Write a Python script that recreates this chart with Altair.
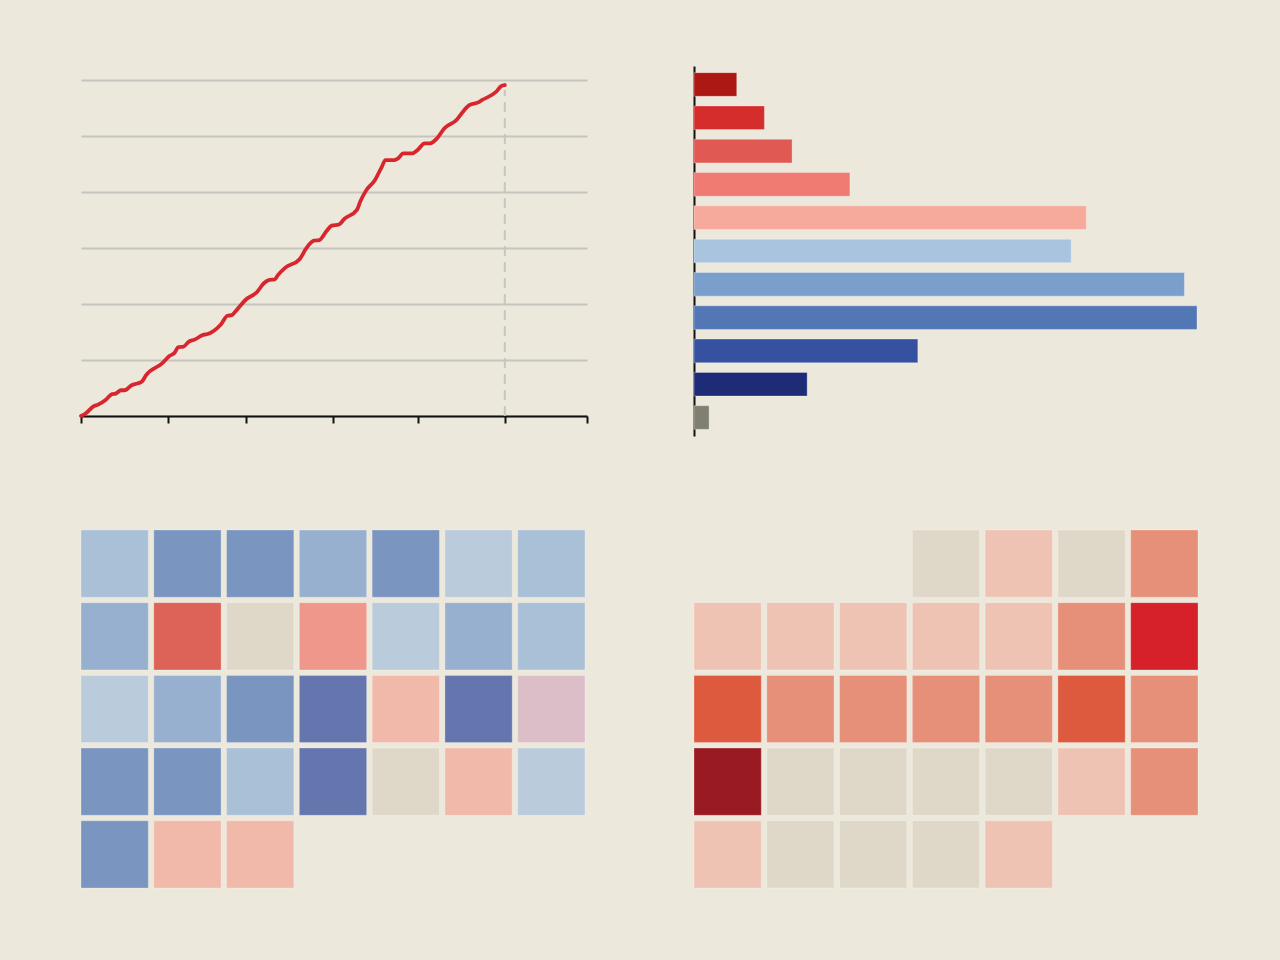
import altair as alt
import pandas as pd

BG = "#ece9dc"

# --- cumulative line (day of year, running total) ---
line_days = [0, 1.5, 4.7, 6.0, 8.9, 11.1, 12.4, 14.3, 15.6, 18.1, 20.1, 21.7, 23.3,
             29.0, 31.6, 33.5, 34.8, 36.7, 38.6, 40.5, 43.7, 45.0, 50.1, 52.4, 53.9,
             55.8, 59.0, 62.9, 65.4, 67.4, 69.3, 70.5, 73.1, 78.2, 80.8, 83.3, 85.2,
             87.8, 89.7, 92.3, 94.2, 98.7, 99.9, 101.9, 105.1, 107.6, 108.9, 112.1,
             113.4, 115.3, 118.5, 120.4, 122.9, 124.9, 127.4, 130.0, 134.4, 136.4,
             138.9, 142.1, 143.4, 148.5, 150.3, 151.6]
line_totals = [0, 4, 18, 20, 29, 39, 40, 46, 46, 55, 58, 61, 73,
               94, 107, 113, 123, 124, 133, 136, 145, 146, 164, 179, 180,
               190, 208, 221, 237, 243, 244, 252, 265, 280, 301, 313, 314,
               330, 340, 342, 352, 368, 383, 402, 421, 445, 457, 457,
               460, 469, 469, 475, 487, 487, 496, 514, 529, 542,
               555, 560, 564, 579, 589, 591]
month_starts = [0, 31, 59, 90, 120.5, 151.6, 181]
grid_values = [0, 100, 200, 300, 400, 500, 600]
cutoff_day = 151.6
cutoff_top = 582

# --- distribution bars ---
bar_cats = ["R5", "R4", "R3", "R2", "R1", "D1", "D2", "D3", "D4", "D5", "Other"]
bar_pct = [1.7, 2.8, 3.9, 6.2, 15.6, 15.0, 19.5, 20.0, 8.9, 4.5, 0.6]
bar_colors = ["#ac1813", "#d42d2b", "#e05a53", "#f07b72", "#f5aa9c", "#a8c4df",
              "#7a9fcc", "#5377b5", "#3551a0", "#1e2b77", "#7f8070"]

# --- monthly calendars (one level per day) ---
left_levels = [-2, -4, -4, -3, -4, -1, -2,
               -3, 4, 0, 3, -1, -3, -2,
               -1, -3, -4, -5, 2, -5, 1,
               -4, -4, -2, -5, 0, 2, -1,
               -4, 2, 2]
left_offset = 0
left_domain = [-5, -4, -3, -2, -1, 0, 1, 2, 3, 4]
left_range = ["#6576ae", "#7995c0", "#98b0cf", "#a9c0d7", "#bacbdb", "#dfd8c8",
              "#dbbec7", "#f1b9aa", "#ef978a", "#dd6257"]

right_levels = [0, 1, 0, 2,
                1, 1, 1, 1, 1, 2, 4,
                3, 2, 2, 2, 2, 3, 2,
                5, 0, 0, 0, 0, 1, 2,
                1, 0, 0, 0, 1]
right_offset = 3
right_domain = [0, 1, 2, 3, 4, 5]
right_range = ["#dfd8c8", "#efc3b3", "#e6907a", "#dd5a3e", "#d6202a", "#991a23"]

# ---------------- line panel ----------------
line_df = pd.DataFrame({"day": line_days, "total": line_totals})
cut_df = pd.DataFrame({"day": [cutoff_day], "total": [0], "top": [cutoff_top]})

x_line = alt.X("day:Q", scale=alt.Scale(domain=[0, 181], nice=False, zero=False),
               axis=alt.Axis(values=month_starts, labels=False, title=None, grid=False,
                             domainColor="#111111", domainWidth=2, tickColor="#111111",
                             tickWidth=2, tickSize=7))
y_line = alt.Y("total:Q", scale=alt.Scale(domain=[0, 625], nice=False),
               axis=alt.Axis(values=grid_values, labels=False, ticks=False, domain=False,
                             title=None, grid=True, gridColor="#c5c4be", gridWidth=2))

cut_rule = alt.Chart(cut_df).mark_rule(color="#c6c6c2", strokeWidth=2, strokeDash=[10, 6]).encode(
    x=x_line, y=y_line, y2="top:Q")
line = alt.Chart(line_df).mark_line(color="#d8262e", strokeWidth=3.8, interpolate="monotone",
                                    strokeCap="round", strokeJoin="round").encode(x=x_line, y=y_line)
line_panel = alt.layer(cut_rule, line).properties(width=506, height=350)

# ---------------- bar panel ----------------
bar_df = pd.DataFrame({"cat": bar_cats, "pct": bar_pct})
bar_panel = alt.Chart(bar_df).mark_bar(stroke="#ffffff", strokeOpacity=0.3, strokeWidth=1).encode(
    y=alt.Y("cat:N", sort=bar_cats,
            scale=alt.Scale(paddingInner=0.29, paddingOuter=0.2),
            axis=alt.Axis(labels=False, ticks=False, title=None, grid=False,
                          domainColor="#111111", domainWidth=2)),
    x=alt.X("pct:Q", scale=alt.Scale(domain=[0, 20.0], nice=False), axis=None),
    color=alt.Color("cat:N", scale=alt.Scale(domain=bar_cats, range=bar_colors), legend=None),
).properties(width=503, height=370)


# ---------------- calendar panels ----------------
def calendar(levels, offset, domain, rng, field):
    pos = [offset + i for i in range(len(levels))]
    df = pd.DataFrame({
        "col": [p % 7 for p in pos],
        "row": [p // 7 for p in pos],
        field: levels,
    })
    return alt.Chart(df).mark_rect(stroke="#ffffff", strokeOpacity=0.25, strokeWidth=1).encode(
        x=alt.X("col:O", scale=alt.Scale(domain=list(range(7)), paddingInner=0.0755,
                                         paddingOuter=0), axis=None),
        y=alt.Y("row:O", scale=alt.Scale(domain=list(range(5)), paddingInner=0.0755,
                                         paddingOuter=0), axis=None),
        color=alt.Color(f"{field}:O", scale=alt.Scale(domain=domain, range=rng), legend=None),
    ).properties(width=504, height=358)


left_cal = calendar(left_levels, left_offset, left_domain, left_range, "level_a")
right_cal = calendar(right_levels, right_offset, right_domain, right_range, "level_b")

chart = alt.concat(
    line_panel, bar_panel, left_cal, right_cal,
    columns=2,
    spacing={"row": 94, "column": 107},
    bounds="flush",
    align="all",
).resolve_scale(color="independent").properties(
    background=BG,
    padding={"left": 79, "top": 66, "right": 81, "bottom": 72},
).configure_view(stroke=None)

chart.save("out.html", embed_options={"renderer": "svg", "actions": False})
